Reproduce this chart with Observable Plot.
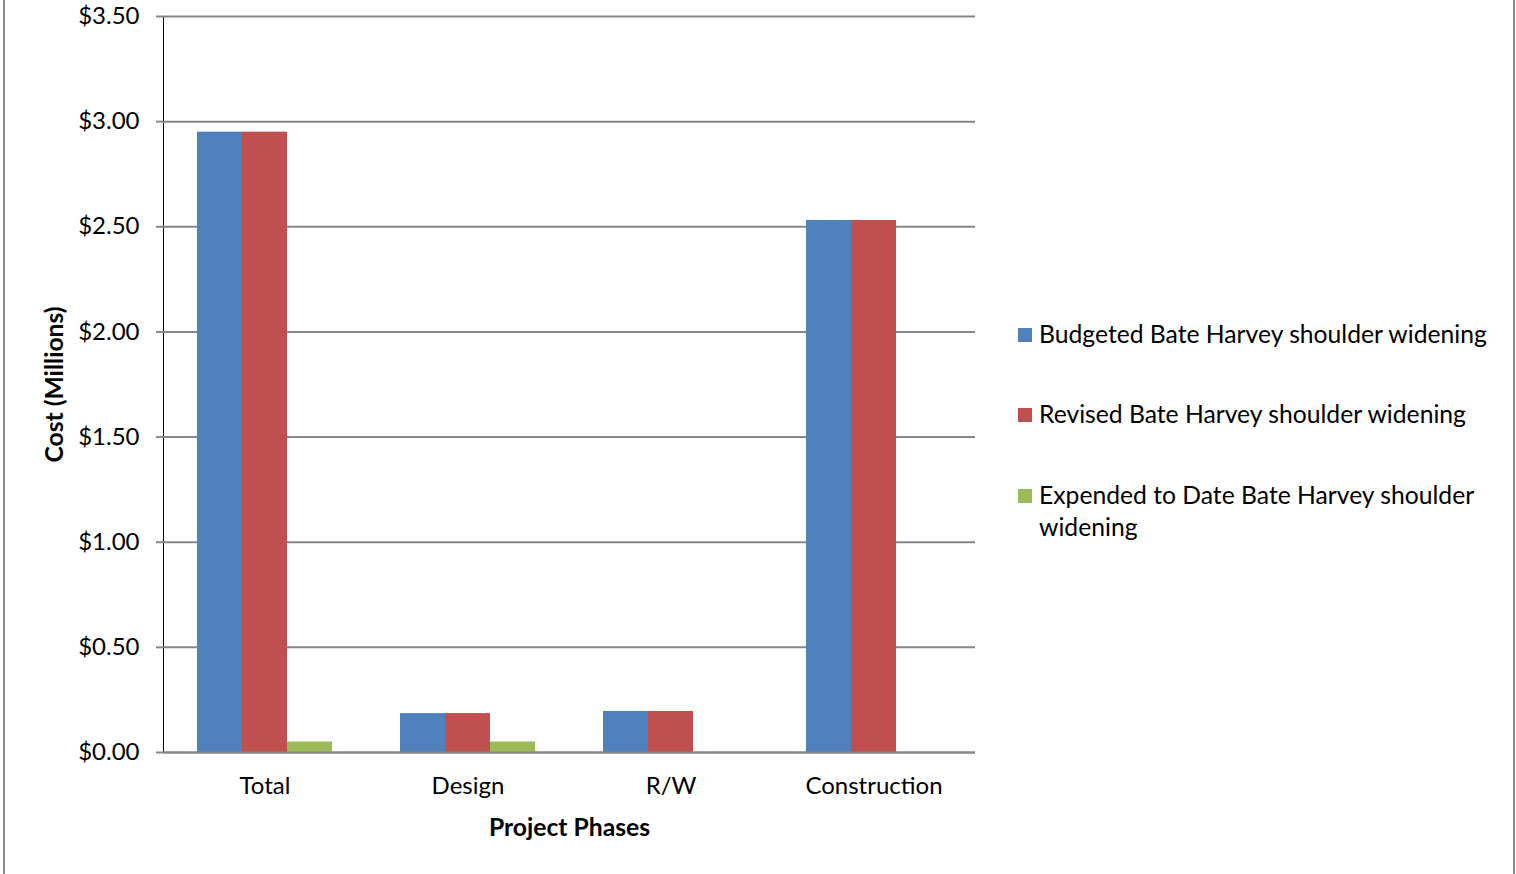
<!DOCTYPE html>
<html>
<head>
<meta charset="utf-8">
<script src="https://cdn.jsdelivr.net/npm/d3@7"></script>
<script src="https://cdn.jsdelivr.net/npm/@observablehq/plot@0.6"></script>
<style>
  html, body { margin: 0; padding: 0; background: #fff; overflow: hidden; }
  body { width: 1516px; height: 874px; position: relative; font-family: Lato, "Open Sans", sans-serif; }
  #frame { position: absolute; left: 3px; top: -10px; width: 1512px; height: 900px; border: 2px solid #8c8c8c; box-sizing: border-box; }
  #chart { position: absolute; left: 0; top: 0; }
  #legend { position: absolute; left: 1018px; top: 0; font-size: 24.7px; color: #000; }
  .item { position: absolute; left: 0; white-space: nowrap; }
  .sw { position: absolute; left: 0; width: 14px; height: 14px; }
  .lab { position: absolute; left: 21px; line-height: 32px; }
  svg [aria-label="y-axis tick"] path, svg [aria-label="y-axis"] .tick line { stroke: #868686; stroke-width: 2; }
  svg [aria-label="y-axis label"] text, svg [aria-label="fx-axis label"] text { font-weight: bold; font-size: 24.7px; }
</style>
</head>
<body>
<div id="frame"></div>
<div id="chart"></div>
<div id="legend"></div>
<script>
const phases = ["Total", "Design", "R/W", "Construction"];
const series = [
  "Budgeted Bate Harvey shoulder widening",
  "Revised Bate Harvey shoulder widening",
  "Expended to Date Bate Harvey shoulder widening"
];
const budgeted = [2.95, 0.185, 0.195, 2.53];
const revised  = [2.95, 0.185, 0.195, 2.53];
const expended = [0.05, 0.05, 0, 0];
const colors = ["#4F81BD", "#C0504D", "#9BBB59"];
const yTicks = [0, 0.5, 1, 1.5, 2, 2.5, 3, 3.5];

const seriesValues = [budgeted, revised, expended];
const data = [];
phases.forEach((p, i) => {
  series.forEach((s, j) => data.push({phase: p, series: s, value: seriesValues[j][i]}));
});

const chart = Plot.plot({
  width: 1516,
  height: 874,
  marginLeft: 163,
  marginRight: 541,
  marginTop: 16,
  marginBottom: 122,
  style: {fontFamily: "Lato, 'Open Sans', sans-serif", fontSize: "24px", color: "#000", background: "transparent"},
  fx: {domain: phases, padding: 0, label: "Project Phases", labelAnchor: "center", labelArrow: "none",
       tickSize: 0, tickPadding: 24, labelOffset: 83},
  x: {domain: series, paddingInner: 0, paddingOuter: 0.755, axis: null},
  y: {domain: [0, 3.5], ticks: yTicks, tickFormat: d => "$" + d.toFixed(2), tickSize: 7, tickPadding: 17,
      label: "Cost (Millions)", labelAnchor: "center", labelArrow: "none", labelOffset: 118, line: true},
  color: {domain: series, range: colors},
  marks: [
    Plot.ruleY(yTicks, {stroke: "#868686", strokeWidth: 2}),
    Plot.barY(data, {fx: "phase", x: "series", y: "value", fill: "series"}),
    Plot.ruleY([0], {stroke: "#868686", strokeWidth: 2})
  ]
});
document.getElementById("chart").appendChild(chart);

// legend
const legend = d3.select("#legend");
const tops = [318, 398, 479];
series.forEach((s, i) => {
  const it = legend.append("div").attr("class", "item").style("top", tops[i] + "px");
  it.append("div").attr("class", "sw").style("top", "10px").style("background", colors[i]);
  const lab = it.append("div").attr("class", "lab");
  if (i === 2) lab.html("Expended to Date Bate Harvey shoulder<br>widening");
  else lab.text(s);
});
</script>
</body>
</html>
